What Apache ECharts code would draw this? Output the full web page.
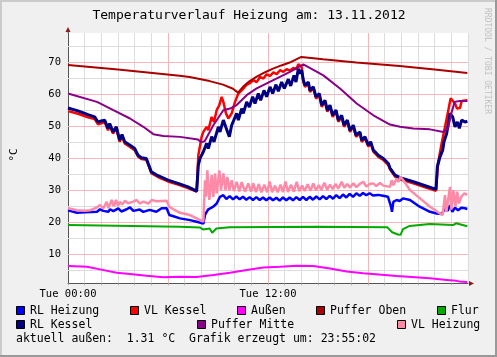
<!DOCTYPE html>
<html><head><meta charset="utf-8">
<script src="https://cdn.jsdelivr.net/npm/echarts@6/dist/echarts.min.js"></script>
<style>html,body{margin:0;padding:0;background:#f0f0f0}#c{width:497px;height:357px}</style>
</head><body><div id="c"></div><script>
const FONT = 'DejaVu Sans Mono';
const titleText = 'Temperaturverlauf Heizung am: 13.11.2012';
const footerText = 'aktuell außen:  1.31 °C  Grafik erzeugt um: 23:55:02';
const yUnit = '°C';
const watermark = 'RRDTOOL / TOBI OETIKER';
const seriesNames = ['RL Heizung','VL Kessel','Außen','Puffer Oben','Flur','RL Kessel','Puffer Mitte','VL Heizung'];
const seriesColors = ['#0000FF','#FF0000','#FF00FF','#AA0000','#00AA00','#000080','#880088','#FF8AA8'];
const xTickLabels = {0:'Tue 00:00', 12:'Tue 12:00'};
const yTickValues = [10,20,30,40,50,60,70];
const yMinorGrid = [5,15,25,35,45,55,65,75];
const xMajorGrid = [6,12,18];

const rlHeizung = [[0,23.8],[0.54,23.0],[1.0,23.2],[1.74,23.3],[1.92,24.1],[2.12,23.6],[2.42,23.3],[2.52,24.1],[2.72,23.5],[3.02,24.4],[3.2,23.4],[3.52,24.1],[3.72,24.7],[3.92,23.6],[4.3,24.0],[4.52,23.3],[4.9,23.9],[5.3,23.3],[5.62,24.4],[5.92,24.4],[6.08,22.3],[6.42,21.75],[6.72,21.25],[7.32,20.7],[7.72,20.2],[8.12,19.6],[8.22,22.3],[8.32,23.3],[8.42,24.1],[8.52,23.5],[8.72,24.9],[8.92,25.9],[9.12,28.0],[9.32,28.5],[9.5,27.3],[9.7,28.2],[9.9,27.2],[10.1,28.1],[10.3,27.2],[10.5,28.0],[10.7,27.1],[10.9,27.9],[11.1,27.0],[11.3,27.9],[11.5,27.0],[11.7,27.8],[11.9,26.9],[12.1,27.8],[12.3,26.9],[12.5,27.7],[12.7,26.8],[12.9,27.8],[13.1,26.9],[13.3,27.8],[13.5,26.9],[13.7,27.9],[13.9,27.0],[14.1,28.0],[14.3,27.0],[14.5,28.0],[14.7,27.1],[14.9,28.1],[15.1,27.2],[15.3,28.2],[15.5,27.3],[15.7,28.3],[15.9,27.4],[16.1,28.5],[16.3,27.6],[16.5,28.7],[16.7,27.8],[16.9,28.9],[17.1,28.0],[17.3,29.1],[17.5,28.3],[17.7,29.2],[17.9,28.5],[18.1,29.1],[18.3,28.4],[18.6,28.6],[18.9,28.3],[19.2,28.0],[19.3,28.0],[19.38,24.9],[19.44,23.3],[19.52,26.4],[19.72,27.0],[19.9,26.7],[20.1,27.5],[20.22,28.0],[20.52,27.0],[21.1,24.9],[21.72,23.3],[22.12,22.8],[22.42,22.6],[22.62,24.4],[22.78,23.6],[22.92,25.4],[23.06,23.3],[23.22,24.6],[23.4,23.8],[23.6,24.6],[23.82,24.4],[23.96,24.2]];

const vlKessel = [[0,54.8],[0.6,54.0],[1.2,52.9],[1.6,52.3],[1.8,50.7],[2.0,51.0],[2.2,51.4],[2.4,48.8],[2.5,50.3],[2.7,47.8],[2.9,49.3],[3.1,45.2],[3.24,47.0],[3.4,44.7],[3.7,43.7],[4.0,42.6],[4.2,40.6],[4.4,39.8],[4.7,39.6],[5.0,35.4],[5.4,34.2],[6.0,32.8],[6.6,31.8],[7.2,30.7],[7.72,29.6],[7.82,41.0],[8.02,46.8],[8.12,48.3],[8.32,49.9],[8.42,48.8],[8.62,53.0],[8.76,51.4],[8.92,55.1],[9.08,56.7],[9.22,59.3],[9.32,57.7],[9.48,54.1],[9.62,52.5],[9.82,54.1],[10.02,57.7],[10.22,60.3],[10.42,61.3],[10.72,63.1],[10.92,63.6],[11.12,64.5],[11.32,63.9],[11.52,65.5],[11.72,65.0],[11.92,66.3],[12.12,65.8],[12.32,66.9],[12.52,66.4],[12.72,67.6],[12.92,67.1],[13.12,67.9],[13.32,67.5],[13.52,68.3],[13.7,68.0],[13.82,69.5],[14.02,68.6],[14.12,64.0],[14.22,62.4],[14.42,63.4],[14.52,60.8],[14.72,61.9],[14.88,58.75],[15.08,59.8],[15.22,56.2],[15.42,57.7],[15.56,54.6],[15.72,56.2],[15.88,53.0],[16.08,54.6],[16.22,51.5],[16.42,53.0],[16.56,49.9],[16.76,51.5],[16.92,48.3],[17.12,49.9],[17.28,46.8],[17.52,47.8],[17.62,45.2],[17.82,46.25],[18.02,43.7],[18.16,44.7],[18.32,42.1],[18.62,40.5],[18.92,39.5],[19.22,37.9],[19.32,36.6],[19.62,34.3],[19.92,33.5],[20.72,32.2],[21.52,30.8],[22.08,29.9],[22.2,38.4],[22.4,44.2],[22.62,49.9],[22.82,55.1],[22.96,58.8],[23.08,59.3],[23.22,57.2],[23.34,55.6],[23.52,55.8],[23.62,58.0],[23.96,58.2]];

const aussen = [[0,6.35],[1.14,6.1],[1.92,5.3],[2.92,4.25],[3.72,3.85],[4.72,3.3],[5.72,2.8],[6.72,3.0],[7.72,2.9],[8.72,3.5],[9.72,4.25],[10.72,5.1],[11.72,5.9],[12.72,6.1],[13.72,6.45],[14.72,6.35],[15.32,5.9],[15.72,5.6],[16.72,4.6],[17.72,4.05],[19.72,3.2],[21.72,2.5],[22.72,2.0],[23.3,1.7],[23.5,1.5],[23.72,1.45],[23.96,1.3]];

const pufferOben = [[0,69.25],[3,67.8],[6.7,65.9],[7.3,65.5],[8.5,64.2],[9.3,63.1],[9.9,61.8],[10.2,60.6],[10.5,62.4],[10.9,64.2],[11.3,65.5],[11.8,66.9],[12.3,68.1],[12.8,69.1],[13.3,70.0],[14.0,71.75],[15.3,71.0],[17.3,70.0],[19.9,68.9],[22,67.8],[23.96,66.75]];

const flur = [[0,19.15],[6.7,18.6],[7.9,18.4],[8.1,17.8],[8.5,18.1],[8.65,16.75],[8.9,18.1],[9.7,18.5],[15,18.6],[19.15,18.5],[19.45,16.9],[19.8,16.2],[19.95,16.1],[20.1,17.9],[20.5,18.9],[21.7,19.5],[23.1,19.15],[23.28,19.7],[23.4,19.1],[23.96,18.8]];

const rlKessel = [[0,55.8],[0.6,54.9],[1.2,53.7],[1.6,53.0],[1.8,51.4],[2.0,51.7],[2.2,52.0],[2.4,49.4],[2.5,50.9],[2.7,48.3],[2.9,49.9],[3.1,45.7],[3.24,47.5],[3.4,45.2],[3.7,44.2],[4.0,43.1],[4.2,41.0],[4.4,40.2],[4.7,40.0],[5.0,35.8],[5.4,34.6],[6.0,33.2],[6.6,32.2],[7.2,31.1],[7.72,29.8],[7.82,37.9],[7.92,40.0],[8.12,42.1],[8.22,41.5],[8.32,44.7],[8.42,43.1],[8.62,46.8],[8.76,45.2],[9.02,49.9],[9.12,48.3],[9.32,52.0],[9.46,49.9],[9.68,46.8],[9.82,50.4],[10.12,54.1],[10.22,52.0],[10.42,55.6],[10.52,54.1],[10.72,57.7],[10.88,56.1],[11.08,59.3],[11.22,57.2],[11.42,60.3],[11.56,58.2],[11.76,61.3],[11.92,59.3],[12.12,62.4],[12.28,60.3],[12.48,63.1],[12.62,61.0],[12.82,63.9],[12.98,61.9],[13.22,64.8],[13.36,62.7],[13.56,66.0],[13.68,63.9],[13.82,68.1],[13.92,66.6],[14.02,67.6],[14.12,64.5],[14.22,62.9],[14.42,63.9],[14.52,61.3],[14.72,62.4],[14.88,59.3],[15.08,60.3],[15.22,56.7],[15.42,58.2],[15.56,55.1],[15.72,56.7],[15.88,53.5],[16.08,55.1],[16.22,52.0],[16.42,53.5],[16.56,50.4],[16.76,52.0],[16.92,48.8],[17.12,50.4],[17.28,47.3],[17.52,48.3],[17.62,45.7],[17.82,46.8],[18.02,44.2],[18.16,45.2],[18.32,42.6],[18.62,41.0],[18.92,40.0],[19.22,38.4],[19.32,37.0],[19.62,34.8],[19.92,34.0],[20.72,32.7],[21.52,31.3],[22.08,30.3],[22.16,37.4],[22.32,40.5],[22.48,42.6],[22.56,45.2],[22.72,47.8],[22.82,50.9],[22.92,54.1],[23.08,53.0],[23.22,49.9],[23.36,51.4],[23.48,49.4],[23.62,52.0],[23.82,51.4],[23.96,51.7]];

const pufferMitte = [[0,60.3],[1.74,57.7],[2.72,55.1],[3.72,52.5],[4.52,49.9],[5.12,47.6],[5.72,47.0],[6.72,46.75],[7.8,45.9],[8.0,45.1],[8.2,45.4],[8.72,50.4],[9.32,55.1],[9.72,55.6],[10.12,56.7],[10.72,59.8],[11.32,61.9],[12.32,64.5],[13.32,67.1],[14.12,69.4],[15.32,66.0],[16.32,61.9],[17.32,57.2],[18.32,53.5],[19.32,50.6],[19.92,49.9],[20.72,49.4],[21.72,49.1],[22.52,48.3],[22.8,49.4],[23.0,54.1],[23.2,57.7],[23.5,58.0],[23.96,58.0]];

const vlHeizung = [[0,24.4],[0.54,23.8],[1.0,23.6],[1.34,23.8],[1.74,24.7],[1.92,25.4],[2.12,24.4],[2.32,26.4],[2.42,24.5],[2.62,27.0],[2.75,25.0],[2.88,27.0],[3.0,25.2],[3.12,26.4],[3.25,25.6],[3.42,26.75],[3.6,26.0],[3.92,26.5],[4.12,27.0],[4.32,25.9],[4.52,26.5],[4.82,25.9],[5.02,27.0],[5.3,26.6],[5.92,26.75],[6.08,24.9],[6.42,23.8],[6.72,23.0],[7.32,22.3],[7.72,21.25],[8.12,20.2],[8.22,33.2],[8.28,28.0],[8.36,36.3],[8.48,27.0],[8.62,34.8],[8.72,28.0],[8.82,35.3],[8.92,29.1],[9.08,36.3],[9.18,30.1],[9.32,35.3],[9.45,30.1],[9.56,34.25],[9.68,30.1],[9.82,33.2],[9.95,29.8],[10.12,32.7],[10.28,29.7],[10.42,32.6],[10.62,29.6],[10.82,32.2],[10.98,29.6],[11.12,32.2],[11.28,29.5],[11.45,32.0],[11.6,29.4],[11.78,31.8],[11.95,29.4],[12.1,32.8],[12.25,29.4],[12.42,31.5],[12.58,29.4],[12.75,31.8],[12.9,29.5],[13.05,32.8],[13.2,29.5],[13.38,31.8],[13.55,29.6],[13.72,32.7],[13.88,29.8],[14.05,31.5],[14.2,29.8],[14.38,31.9],[14.55,29.9],[14.72,32.2],[14.88,30.0],[15.05,31.7],[15.2,30.1],[15.38,32.4],[15.55,30.2],[15.72,31.8],[15.88,30.4],[16.05,32.0],[16.22,30.6],[16.42,32.7],[16.58,30.8],[16.75,32.0],[16.92,30.9],[17.12,32.2],[17.3,31.0],[17.5,32.0],[17.72,32.7],[17.9,31.2],[18.1,32.0],[18.32,32.2],[18.5,31.4],[18.72,32.3],[18.92,31.5],[19.32,31.1],[19.42,33.2],[19.52,31.6],[19.72,33.75],[19.82,32.6],[19.95,34.25],[20.12,33.2],[20.52,30.1],[21.12,27.5],[21.72,24.9],[22.32,22.8],[22.48,22.3],[22.62,28.5],[22.7,23.2],[22.92,31.1],[23.0,24.0],[23.12,30.1],[23.25,25.0],[23.35,29.6],[23.45,25.9],[23.6,28.0],[23.78,29.1],[23.96,28.6]];

const seriesData = [rlHeizung, vlKessel, aussen, pufferOben, flur, rlKessel, pufferMitte, vlHeizung];
const seriesWidths = [2.5, 2.5, 2, 2, 2, 3, 2, 2.5];

const W = 497, H = 357;
const GL = 68, GT = 33, GR = 468, GB = 283.5;
const Y_MIN = 0.875, Y_MAX = 79.25;

const chart = echarts.init(document.getElementById('c'), null, {renderer:'canvas', width:W, height:H});

const minorGray = '#dcdcdc', majorRed = '#f4b6b6';

const series = seriesNames.map((n, i) => ({
  name: n, type: 'line', data: seriesData[i], showSymbol: false, symbol: 'none',
  lineStyle: { color: seriesColors[i], width: seriesWidths[i] },
  itemStyle: { color: seriesColors[i] },
  z: 3 + i, animation: false, silent: true
}));
series[0].markLine = {
  silent: true, symbol: ['none','none'], animation: false, z: 1,
  label: { show: false },
  data: [
    ...yMinorGrid.map(v => ({ yAxis: v, lineStyle: { color: minorGray, width: 1, type: 'solid' } })),
    ...yTickValues.map(v => ({ yAxis: v, lineStyle: { color: majorRed, width: 1, type: 'solid' } })),
    ...xMajorGrid.map(v => ({ xAxis: v, lineStyle: { color: majorRed, width: 1, type: 'solid' } }))
  ]
};

// legend graphics
const legendPos = [[16,311],[130,311],[237,311],[316,311],[437,311],[16,325],[197,325],[397,325]];
const graphic = [
  { type:'rect', shape:{x:0,y:0,width:W,height:2}, style:{fill:'#cbcbcb'}, z:-10, silent:true },
  { type:'rect', shape:{x:0,y:0,width:2,height:H}, style:{fill:'#cbcbcb'}, z:-10, silent:true },
  { type:'rect', shape:{x:0,y:H-2,width:W,height:2}, style:{fill:'#999999'}, z:-10, silent:true },
  { type:'rect', shape:{x:W-2,y:0,width:2,height:H}, style:{fill:'#999999'}, z:-10, silent:true },
  { type:'text', x:249, y:16, style:{ text:titleText, font:'13px "DejaVu Sans Mono"', fill:'#000', align:'center', verticalAlign:'middle' } },
  { type:'text', x:14, y:155, rotation:Math.PI/2, style:{ text:yUnit, font:'11px "DejaVu Sans Mono"', fill:'#000', align:'center', verticalAlign:'middle' } },
  { type:'text', x:487, y:61, rotation:-Math.PI/2, style:{ text:watermark, font:'8px "DejaVu Sans Mono"', fill:'#c0c0c0', align:'center', verticalAlign:'middle' } },
  { type:'text', x:16, y:339, style:{ text:footerText, font:'11.5px "DejaVu Sans Mono"', fill:'#000', align:'left', verticalAlign:'middle' } },
  // arrows
  { type:'polygon', shape:{ points:[[GR+1,GB-2.5],[GR+6,GB],[GR+1,GB+2.5]] }, style:{ fill:'#8b1a1a' }, z:20 },
  { type:'polygon', shape:{ points:[[GL-2.5,GT-1],[GL,GT-6],[GL+2.5,GT-1]] }, style:{ fill:'#8b1a1a' }, z:20 },
  { type:'line', shape:{ x1:GL, y1:GT, x2:GL, y2:GT-2 }, style:{ stroke:'#555', lineWidth:1 }, z:20 }
];
seriesNames.forEach((n, i) => {
  const [x, y] = legendPos[i];
  graphic.push({ type:'rect', shape:{ x:x+0.5, y:y-4.5, width:8, height:8 }, style:{ fill:seriesColors[i], stroke:'#000', lineWidth:1 } });
  graphic.push({ type:'text', x:x+14, y:y, style:{ text:n, font:'11.5px "DejaVu Sans Mono"', fill:'#000', align:'left', verticalAlign:'middle' } });
});

chart.setOption({
  backgroundColor: '#f0f0f0',
  animation: false,
  textStyle: { fontFamily: FONT },
  grid: { left: GL, top: GT, width: GR-GL, height: GB-GT, show: true, backgroundColor: '#ffffff', borderWidth: 0, containLabel: false },
  xAxis: {
    type: 'value', min: 0, max: 24, interval: 1,
    axisLine: { show: true, lineStyle: { color: '#555', width: 1 } },
    axisTick: { show: true, length: 2, lineStyle: { color: '#bbb' } },
    splitLine: { show: true, lineStyle: { color: minorGray, width: 1 } },
    axisLabel: { show: true, margin: 5, fontFamily: FONT, fontSize: 10.5, color: '#000',
      formatter: v => xTickLabels[v] || '' , showMaxLabel: false }
  },
  yAxis: {
    type: 'value', min: Y_MIN, max: Y_MAX,
    axisLine: { show: true, lineStyle: { color: '#555', width: 1 } },
    axisTick: { show: false },
    splitLine: { show: false },
    axisLabel: { show: true, margin: 7, fontFamily: FONT, fontSize: 10.5, color: '#000', customValues: yTickValues, formatter: v => String(v) }
  },
  series: series,
  graphic: graphic
});
</script></body></html>
